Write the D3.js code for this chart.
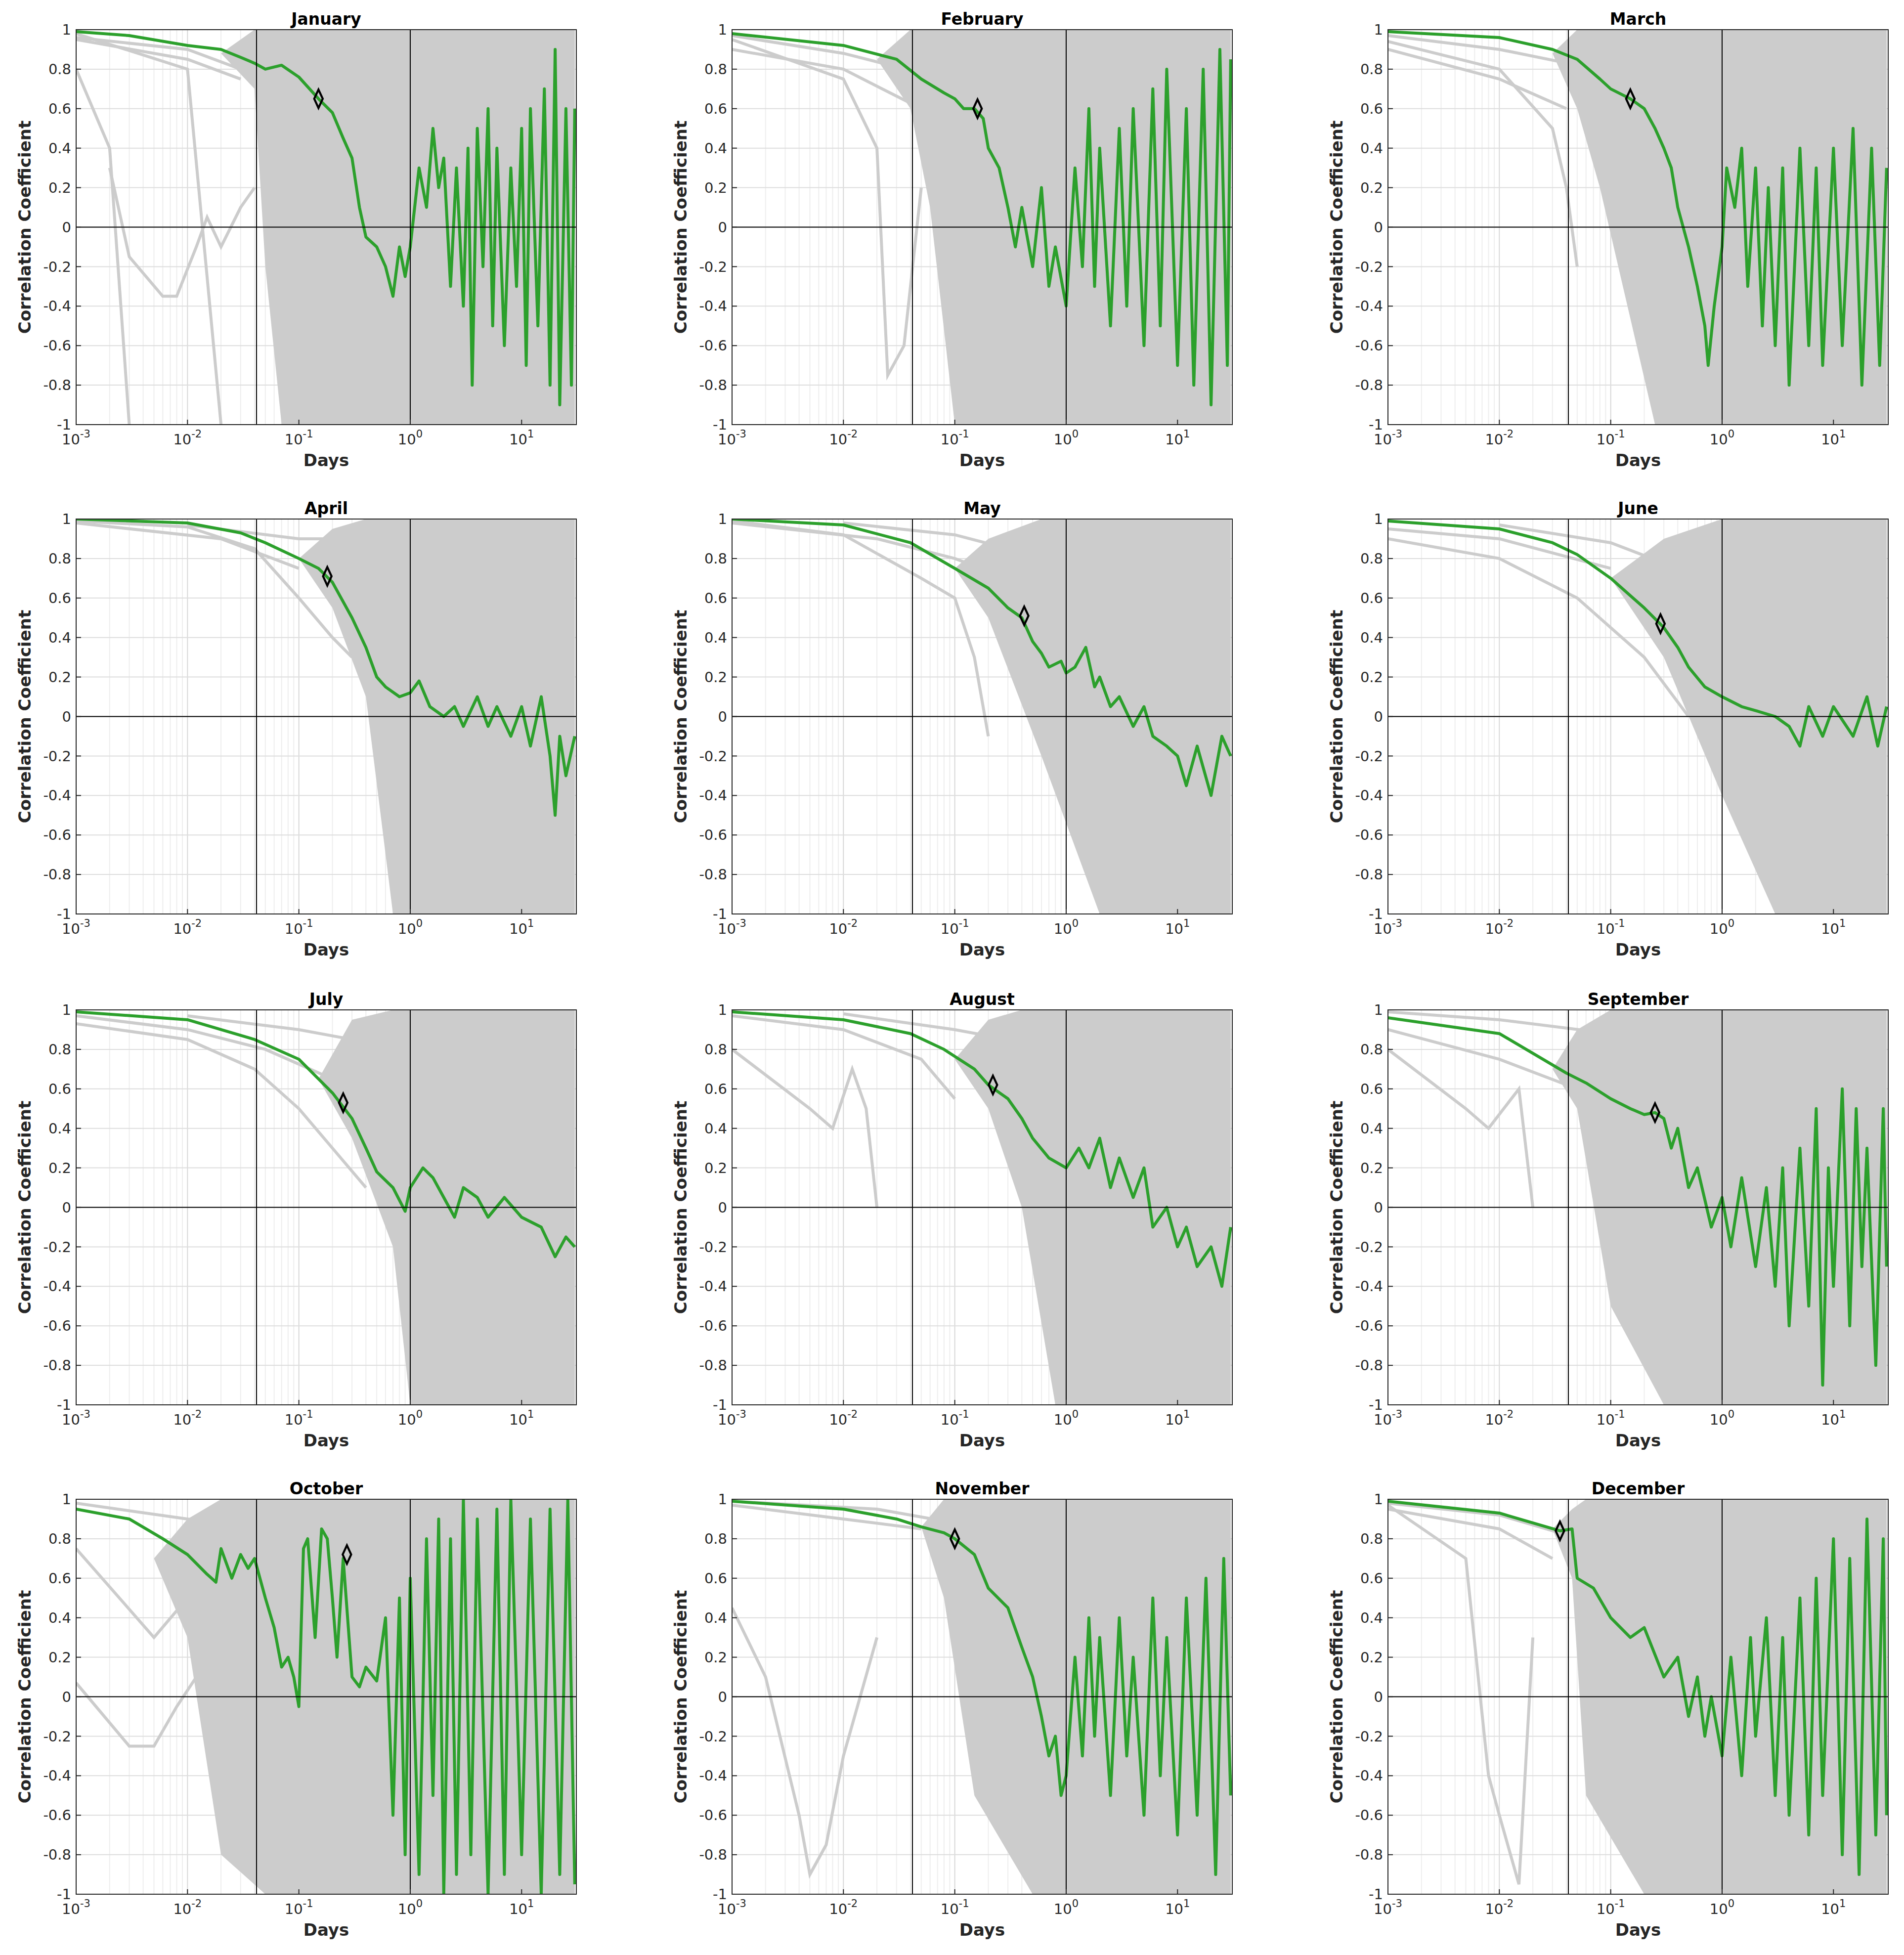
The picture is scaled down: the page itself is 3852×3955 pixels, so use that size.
<!DOCTYPE html>
<html><head><meta charset="utf-8">
<script src="https://cdn.jsdelivr.net/npm/d3@7"></script>
<style>body{margin:0;background:#fff}</style></head>
<body><svg id="c" width="3852" height="3955"></svg>
<script>
const months=["January","February","March","April","May","June","July","August","September","October","November","December"];
const yTicks=[-1,-0.8,-0.6,-0.4,-0.2,0,0.2,0.4,0.6,0.8,1];
const xTickExp=[-3,-2,-1,0,1];
const refDays=[1/24,1];
const green=[
[[0.001,0.99],[0.003,0.97],[0.01,0.92],[0.02,0.9],[0.03,0.86],[0.04,0.83],[0.05,0.8],[0.07,0.82],[0.1,0.76],[0.15,0.65],[0.2,0.58],[0.25,0.45],[0.3,0.35],[0.35,0.1],[0.4,-0.05],[0.5,-0.1],[0.6,-0.2],[0.7,-0.35],[0.8,-0.1],[0.9,-0.25],[1,-0.1],[1.2,0.3],[1.4,0.1],[1.6,0.5],[1.8,0.2],[2,0.35],[2.3,-0.3],[2.6,0.3],[3,-0.4],[3.3,0.4],[3.6,-0.8],[4,0.5],[4.5,-0.2],[5,0.6],[5.5,-0.5],[6,0.4],[7,-0.6],[8,0.3],[9,-0.3],[10,0.5],[11,-0.7],[12,0.6],[14,-0.5],[16,0.7],[18,-0.8],[20,0.9],[22,-0.9],[25,0.6],[28,-0.8],[30,0.6]],
[[0.001,0.98],[0.01,0.92],[0.03,0.85],[0.05,0.75],[0.08,0.68],[0.1,0.65],[0.12,0.6],[0.15,0.6],[0.18,0.55],[0.2,0.4],[0.25,0.3],[0.3,0.1],[0.35,-0.1],[0.4,0.1],[0.5,-0.2],[0.6,0.2],[0.7,-0.3],[0.8,-0.1],[1,-0.4],[1.2,0.3],[1.4,-0.2],[1.6,0.6],[1.8,-0.3],[2,0.4],[2.5,-0.5],[3,0.5],[3.5,-0.4],[4,0.6],[5,-0.6],[6,0.7],[7,-0.5],[8,0.8],[10,-0.7],[12,0.6],[14,-0.8],[17,0.8],[20,-0.9],[24,0.9],[28,-0.7],[30,0.85]],
[[0.001,0.99],[0.01,0.96],[0.03,0.9],[0.05,0.85],[0.08,0.75],[0.1,0.7],[0.15,0.65],[0.2,0.6],[0.25,0.5],[0.3,0.4],[0.35,0.3],[0.4,0.1],[0.5,-0.1],[0.6,-0.3],[0.7,-0.5],[0.75,-0.7],[0.85,-0.4],[1,-0.1],[1.1,0.3],[1.3,0.1],[1.5,0.4],[1.7,-0.3],[2,0.3],[2.3,-0.5],[2.6,0.2],[3,-0.6],[3.5,0.3],[4,-0.8],[5,0.4],[6,-0.6],[7,0.3],[8,-0.7],[10,0.4],[12,-0.6],[15,0.5],[18,-0.8],[22,0.4],[26,-0.7],[30,0.3]],
[[0.001,1],[0.01,0.98],[0.03,0.93],[0.05,0.88],[0.1,0.8],[0.15,0.75],[0.2,0.68],[0.3,0.5],[0.4,0.35],[0.5,0.2],[0.6,0.15],[0.8,0.1],[1,0.12],[1.2,0.18],[1.5,0.05],[2,0],[2.5,0.05],[3,-0.05],[4,0.1],[5,-0.05],[6,0.05],[8,-0.1],[10,0.05],[12,-0.15],[15,0.1],[18,-0.2],[20,-0.5],[22,-0.1],[25,-0.3],[30,-0.1]],
[[0.001,1],[0.01,0.97],[0.04,0.88],[0.1,0.75],[0.2,0.65],[0.3,0.55],[0.4,0.5],[0.5,0.38],[0.6,0.32],[0.7,0.25],[0.9,0.28],[1,0.22],[1.2,0.25],[1.5,0.35],[1.8,0.15],[2,0.2],[2.5,0.05],[3,0.1],[4,-0.05],[5,0.05],[6,-0.1],[8,-0.15],[10,-0.2],[12,-0.35],[15,-0.15],[20,-0.4],[25,-0.1],[30,-0.2]],
[[0.001,0.99],[0.01,0.95],[0.03,0.88],[0.05,0.82],[0.1,0.7],[0.2,0.55],[0.3,0.45],[0.4,0.35],[0.5,0.25],[0.7,0.15],[1,0.1],[1.5,0.05],[2,0.03],[3,0],[4,-0.05],[5,-0.15],[6,0.05],[8,-0.1],[10,0.05],[15,-0.1],[20,0.1],[25,-0.15],[30,0.05]],
[[0.001,0.99],[0.01,0.95],[0.04,0.85],[0.1,0.75],[0.2,0.58],[0.3,0.45],[0.4,0.3],[0.5,0.18],[0.7,0.1],[0.9,-0.02],[1,0.1],[1.3,0.2],[1.6,0.15],[2,0.05],[2.5,-0.05],[3,0.1],[4,0.05],[5,-0.05],[7,0.05],[10,-0.05],[15,-0.1],[20,-0.25],[25,-0.15],[30,-0.2]],
[[0.001,0.99],[0.01,0.95],[0.04,0.88],[0.08,0.8],[0.15,0.7],[0.2,0.62],[0.3,0.55],[0.4,0.45],[0.5,0.35],[0.7,0.25],[1,0.2],[1.3,0.3],[1.6,0.2],[2,0.35],[2.5,0.1],[3,0.25],[4,0.05],[5,0.2],[6,-0.1],[8,0],[10,-0.2],[12,-0.1],[15,-0.3],[20,-0.2],[25,-0.4],[30,-0.1]],
[[0.001,0.96],[0.01,0.88],[0.02,0.78],[0.04,0.68],[0.06,0.63],[0.1,0.55],[0.15,0.5],[0.2,0.47],[0.25,0.48],[0.3,0.45],[0.35,0.3],[0.4,0.4],[0.5,0.1],[0.6,0.2],[0.8,-0.1],[1,0.05],[1.2,-0.2],[1.5,0.15],[2,-0.3],[2.5,0.1],[3,-0.4],[3.5,0.2],[4,-0.6],[5,0.3],[6,-0.5],[7,0.5],[8,-0.9],[9,0.2],[10,-0.4],[12,0.6],[14,-0.6],[16,0.5],[18,-0.3],[20,0.3],[24,-0.8],[28,0.5],[30,-0.3]],
[[0.001,0.95],[0.003,0.9],[0.006,0.8],[0.01,0.72],[0.015,0.62],[0.018,0.58],[0.02,0.75],[0.025,0.6],[0.03,0.72],[0.035,0.65],[0.04,0.7],[0.05,0.5],[0.06,0.35],[0.07,0.15],[0.08,0.2],[0.09,0.1],[0.1,-0.05],[0.11,0.75],[0.12,0.8],[0.14,0.3],[0.16,0.85],[0.18,0.8],[0.2,0.5],[0.22,0.2],[0.25,0.7],[0.3,0.1],[0.35,0.05],[0.4,0.15],[0.5,0.08],[0.6,0.4],[0.7,-0.6],[0.8,0.5],[0.9,-0.8],[1,0.6],[1.2,-0.9],[1.4,0.8],[1.6,-0.5],[1.8,0.9],[2,-1],[2.3,0.8],[2.6,-0.9],[3,1],[3.5,-0.8],[4,0.9],[5,-1],[6,0.95],[7,-0.9],[8,1],[10,-0.8],[12,0.9],[15,-1],[18,0.95],[22,-0.9],[26,1],[30,-0.95]],
[[0.001,0.99],[0.01,0.95],[0.03,0.9],[0.05,0.86],[0.08,0.83],[0.1,0.8],[0.15,0.72],[0.2,0.55],[0.3,0.45],[0.4,0.25],[0.5,0.1],[0.6,-0.1],[0.7,-0.3],[0.8,-0.2],[0.9,-0.5],[1,-0.4],[1.2,0.2],[1.4,-0.3],[1.6,0.4],[1.8,-0.2],[2,0.3],[2.5,-0.5],[3,0.4],[3.5,-0.3],[4,0.2],[5,-0.6],[6,0.5],[7,-0.4],[8,0.3],[10,-0.7],[12,0.5],[15,-0.6],[18,0.6],[22,-0.9],[26,0.7],[30,-0.5]],
[[0.001,0.99],[0.01,0.93],[0.02,0.88],[0.035,0.84],[0.045,0.85],[0.05,0.6],[0.07,0.55],[0.1,0.4],[0.15,0.3],[0.2,0.35],[0.3,0.1],[0.4,0.2],[0.5,-0.1],[0.6,0.1],[0.7,-0.2],[0.8,0],[1,-0.3],[1.2,0.2],[1.5,-0.4],[1.8,0.3],[2,-0.2],[2.5,0.4],[3,-0.5],[3.5,0.3],[4,-0.6],[5,0.5],[6,-0.7],[7,0.6],[8,-0.5],[10,0.8],[12,-0.8],[14,0.7],[17,-0.9],[20,0.9],[24,-0.7],[28,0.8],[30,-0.6]]
];
const markers=[[0.15,0.65],[0.16,0.6],[0.15,0.65],[0.18,0.71],[0.42,0.51],[0.28,0.47],[0.25,0.53],[0.22,0.62],[0.25,0.48],[0.27,0.72],[0.1,0.8],[0.035,0.84]];
const bands=[
[[0.02,0.88,0.88],[0.04,0.7,1],[0.05,-0.2,1],[0.07,-1,1],[30,-1,1]],
[[0.02,0.85,0.85],[0.04,0.6,1],[0.06,0.1,1],[0.1,-1,1],[30,-1,1]],
[[0.03,0.88,0.88],[0.05,0.6,1],[0.08,0.2,1],[0.25,-1,1],[30,-1,1]],
[[0.1,0.8,0.8],[0.2,0.55,0.95],[0.4,0.1,1],[0.7,-1,1],[30,-1,1]],
[[0.1,0.75,0.75],[0.2,0.5,0.9],[0.6,-0.2,1],[2,-1,1],[30,-1,1]],
[[0.1,0.7,0.7],[0.3,0.3,0.9],[1,-0.4,1],[3,-1,1],[30,-1,1]],
[[0.15,0.65,0.65],[0.3,0.35,0.95],[0.7,-0.2,1],[1,-1,1],[30,-1,1]],
[[0.1,0.75,0.75],[0.2,0.5,0.95],[0.4,0,1],[0.8,-1,1],[30,-1,1]],
[[0.03,0.7,0.7],[0.05,0.5,0.9],[0.1,-0.5,1],[0.3,-1,1],[30,-1,1]],
[[0.005,0.7,0.7],[0.01,0.3,0.9],[0.02,-0.8,1],[0.05,-1,1],[30,-1,1]],
[[0.05,0.86,0.86],[0.08,0.5,1],[0.15,-0.5,1],[0.5,-1,1],[30,-1,1]],
[[0.03,0.85,0.85],[0.045,0.6,0.95],[0.06,-0.5,1],[0.2,-1,1],[30,-1,1]]
];
const grays=[
[[[0.001,0.96],[0.01,0.9],[0.03,0.8],[0.05,0.7]],[[0.001,0.8],[0.002,0.4],[0.003,-1]],[[0.002,0.3],[0.003,-0.15],[0.006,-0.35],[0.008,-0.35],[0.012,-0.1],[0.015,0.05],[0.02,-0.1],[0.03,0.1],[0.04,0.2]],[[0.001,0.95],[0.01,0.85],[0.03,0.75]],[[0.001,0.98],[0.01,0.8],[0.02,-1]]],
[[[0.001,0.95],[0.01,0.75],[0.02,0.4],[0.025,-0.75],[0.035,-0.6],[0.05,0.2]],[[0.001,0.9],[0.01,0.8],[0.05,0.6]],[[0.001,0.97],[0.01,0.88],[0.05,0.78]]],
[[[0.001,0.94],[0.01,0.8],[0.03,0.5],[0.04,0.2],[0.05,-0.2]],[[0.001,0.9],[0.01,0.75],[0.04,0.6]],[[0.001,0.97],[0.01,0.9],[0.05,0.82]]],
[[[0.001,0.99],[0.01,0.96],[0.04,0.85],[0.1,0.6],[0.2,0.4],[0.3,0.3]],[[0.001,0.98],[0.02,0.9],[0.1,0.75]],[[0.01,0.97],[0.1,0.9],[0.3,0.9]]],
[[[0.001,0.99],[0.01,0.92],[0.05,0.7],[0.1,0.6],[0.15,0.3],[0.2,-0.1]],[[0.001,0.98],[0.02,0.9],[0.1,0.8],[0.3,0.7]],[[0.01,0.98],[0.1,0.92],[0.3,0.85]]],
[[[0.001,0.9],[0.01,0.8],[0.05,0.6],[0.1,0.45],[0.2,0.3],[0.5,0]],[[0.001,0.95],[0.01,0.9],[0.1,0.75]],[[0.01,0.97],[0.1,0.88],[0.4,0.75]]],
[[[0.001,0.93],[0.01,0.85],[0.04,0.7],[0.1,0.5],[0.2,0.3],[0.4,0.1]],[[0.001,0.97],[0.01,0.9],[0.05,0.8],[0.2,0.65]],[[0.01,0.97],[0.1,0.9],[0.3,0.85]]],
[[[0.001,0.8],[0.005,0.5],[0.008,0.4],[0.012,0.7],[0.016,0.5],[0.02,0]],[[0.001,0.97],[0.01,0.9],[0.05,0.75],[0.1,0.55]],[[0.01,0.98],[0.1,0.9],[0.3,0.85]]],
[[[0.001,0.8],[0.005,0.5],[0.008,0.4],[0.015,0.6],[0.02,0]],[[0.001,0.9],[0.01,0.75],[0.05,0.6]],[[0.001,0.99],[0.01,0.95],[0.1,0.88]]],
[[[0.001,0.07],[0.003,-0.25],[0.005,-0.25],[0.008,-0.05],[0.012,0.1],[0.02,-0.5]],[[0.001,0.75],[0.005,0.3],[0.01,0.5],[0.015,0.2]],[[0.001,0.98],[0.01,0.9],[0.05,0.85],[0.1,0.8]]],
[[[0.001,0.45],[0.002,0.1],[0.004,-0.6],[0.005,-0.9],[0.007,-0.75],[0.01,-0.3],[0.02,0.3]],[[0.001,0.97],[0.01,0.9],[0.05,0.85]],[[0.001,0.99],[0.02,0.95],[0.1,0.88]]],
[[[0.001,0.97],[0.005,0.7],[0.008,-0.4],[0.01,-0.6],[0.015,-0.95],[0.02,0.3]],[[0.001,0.95],[0.01,0.85],[0.03,0.7]],[[0.001,0.98],[0.01,0.92],[0.04,0.82]]]
];

const svg=d3.select("#c");
const colL=[154,1481,2808], rowT=[60,1050,2043,3033], W=1012, H=799;
const font="DejaVu Sans, sans-serif";
months.forEach((m,i)=>{
  const ox=colL[i%3], oy=rowT[Math.floor(i/3)];
  const g=svg.append("g").attr("transform",`translate(${ox},${oy})`);
  const x=d3.scaleLog().domain([0.001,31]).range([0,W]);
  const y=d3.scaleLinear().domain([-1,1]).range([H,0]);
  const cid="clip"+i;
  g.append("clipPath").attr("id",cid).append("rect").attr("width",W).attr("height",H);
  const minor=[];
  for(let e=-3;e<=1;e++)for(let k=1;k<10;k++){const v=k*Math.pow(10,e); if(v<=31) minor.push(v);}
  g.selectAll(".gx").data(minor).enter().append("line").attr("x1",d=>x(d)).attr("x2",d=>x(d)).attr("y1",0).attr("y2",H)
   .attr("stroke",d=>Math.abs(Math.log10(d)-Math.round(Math.log10(d)))<1e-9?"#d8d8d8":"#eeeeee").attr("stroke-width",2);
  g.selectAll(".gy").data(yTicks).enter().append("line").attr("x1",0).attr("x2",W).attr("y1",d=>y(d)).attr("y2",d=>y(d)).attr("stroke","#dddddd").attr("stroke-width",2);
  const pg=g.append("g").attr("clip-path",`url(#${cid})`);
  pg.append("path").datum(bands[i]).attr("fill","#cccccc")
    .attr("d",d3.area().x(d=>x(d[0])).y0(d=>y(d[1])).y1(d=>y(d[2])));
  const line=d3.line().x(d=>x(d[0])).y(d=>y(d[1]));
  grays[i].forEach(s=>pg.append("path").datum(s).attr("fill","none").attr("stroke","#cccccc").attr("stroke-width",6).attr("d",line));
  refDays.forEach(v=>g.append("line").attr("x1",x(v)).attr("x2",x(v)).attr("y1",0).attr("y2",H).attr("stroke","#000").attr("stroke-width",2));
  g.append("line").attr("x1",0).attr("x2",W).attr("y1",y(0)).attr("y2",y(0)).attr("stroke","#000").attr("stroke-width",2);
  pg.append("path").datum(green[i]).attr("fill","none").attr("stroke","#2ca02c").attr("stroke-width",6).attr("stroke-linejoin","round").attr("d",line);
  const mk=markers[i];
  g.append("path").attr("d",d3.symbol(d3.symbolDiamond,400)()).attr("transform",`translate(${x(mk[0])},${y(mk[1])}) scale(0.8,1)`)
   .attr("fill","none").attr("stroke","#000").attr("stroke-width",5);
  g.append("rect").attr("width",W).attr("height",H).attr("fill","none").attr("stroke","#262626").attr("stroke-width",2);
  yTicks.forEach(v=>{
    g.append("line").attr("x1",0).attr("x2",10).attr("y1",y(v)).attr("y2",y(v)).attr("stroke","#262626").attr("stroke-width",2);
    g.append("text").attr("x",-10).attr("y",y(v)).attr("dy","0.35em").attr("text-anchor","end").attr("font-family",font).attr("font-size",29).attr("fill","#262626").text(String(v));
  });
  xTickExp.forEach(e=>{
    const v=Math.pow(10,e);
    g.append("line").attr("x1",x(v)).attr("x2",x(v)).attr("y1",H).attr("y2",H-10).attr("stroke","#262626").attr("stroke-width",2);
    const t=g.append("text").attr("x",x(v)).attr("y",H+40).attr("text-anchor","middle").attr("font-family",font).attr("font-size",29).attr("fill","#262626");
    t.append("tspan").text("10");
    t.append("tspan").attr("dy",-14).attr("font-size",21).text(String(e));
  });
  g.append("text").attr("x",W/2).attr("y",-10).attr("text-anchor","middle").attr("font-family",font).attr("font-weight","bold").attr("font-size",33).attr("fill","#000").text(m);
  g.append("text").attr("x",W/2).attr("y",H+84).attr("text-anchor","middle").attr("font-family",font).attr("font-weight","bold").attr("font-size",34).attr("fill","#262626").text("Days");
  g.append("text").attr("transform",`translate(-92,${H/2}) rotate(-90)`).attr("text-anchor","middle").attr("font-family",font).attr("font-weight","bold").attr("font-size",34).attr("fill","#262626").text("Correlation Coefficient");
});
</script></body></html>
